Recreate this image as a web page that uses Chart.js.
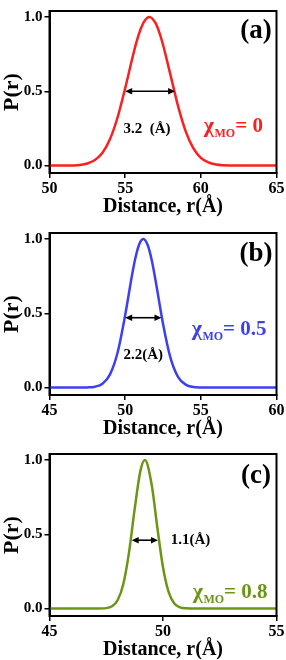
<!DOCTYPE html>
<html><head><meta charset="utf-8">
<script src="https://cdn.jsdelivr.net/npm/chart.js@4/dist/chart.umd.min.js"></script>
<style>
html,body{margin:0;padding:0;background:#fff;width:286px;height:660px;overflow:hidden;position:relative}
canvas{position:absolute;left:0}
</style></head><body>
<canvas id="ca" width="286" height="220" style="top:0px"></canvas>
<canvas id="cb" width="286" height="220" style="top:222px"></canvas>
<canvas id="cc" width="286" height="220" style="top:443px"></canvas>
<script>
// ---------- data ----------
const distanceA = [50, 51, 52, 52.5, 53, 53.5, 54, 54.5, 55, 55.5, 55.75, 56, 56.25, 56.6, 57, 57.25, 57.5, 58, 58.5, 59, 59.5, 60, 60.5, 61, 61.5, 62, 63, 65];
const probA     = [0, 0.0003, 0.0045, 0.014, 0.037, 0.086, 0.178, 0.325, 0.520, 0.734, 0.832, 0.912, 0.969, 1.0, 0.960, 0.898, 0.813, 0.607, 0.398, 0.230, 0.117, 0.052, 0.021, 0.007, 0.002, 0.0006, 0, 0];

const distanceB = [45, 47, 47.5, 48, 48.5, 49, 49.5, 50, 50.5, 50.75, 51, 51.2, 51.5, 51.75, 52, 52.5, 53, 53.5, 54, 54.5, 55, 55.5, 60];
const probB     = [0, 0.0002, 0.001, 0.006, 0.026, 0.089, 0.236, 0.487, 0.783, 0.904, 0.980, 1.0, 0.956, 0.860, 0.726, 0.430, 0.198, 0.071, 0.020, 0.004, 0.0007, 0, 0];

const distanceC = [45, 47, 47.5, 47.75, 48, 48.25, 48.5, 48.75, 49, 49.2, 49.5, 49.75, 50, 50.25, 50.5, 50.75, 51, 51.5, 55];
const probC     = [0, 0, 0.003, 0.015, 0.056, 0.164, 0.375, 0.667, 0.923, 1.0, 0.835, 0.546, 0.278, 0.110, 0.034, 0.008, 0.0015, 0, 0];

const xTicksA = [50, 55, 60, 65];
const xTicksB = [45, 50, 55, 60];
const xTicksC = [45, 50, 55];
const yTicks  = [0, 0.5, 1.0];

const fwhmA = [55.0, 58.3];   // arrow ends (Å) at half max
const fwhmB = [50.0, 52.4];
const fwhmC = [48.62, 49.78];

const panelLabels = ['(a)', '(b)', '(c)'];
const fwhmLabels  = ['3.2  (Å)', '2.2(Å)', '1.1(Å)'];
const chiValues   = ['0', '0.5', '0.8'];

const colors = ['#fa2020', '#3c40f0', '#6b9614'];
const SERIF = "'Liberation Serif','Times New Roman',serif";

// ---------- annotation plugin ----------
const annot = {
  id: 'annot',
  afterDatasetsDraw(chart, args, o) {
    const {ctx, chartArea: a, scales: {x, y}} = chart;
    ctx.save();
    ctx.strokeStyle = '#000'; ctx.lineWidth = 2;
    ctx.strokeRect(a.left, a.top, a.right - a.left, a.bottom - a.top);
    const ay = y.getPixelForValue(o.arrowY);
    const x1 = x.getPixelForValue(o.arrow[0]), x2 = x.getPixelForValue(o.arrow[1]);
    ctx.lineWidth = 1.6;
    ctx.beginPath(); ctx.moveTo(x1 + 3, ay); ctx.lineTo(x2 - 3, ay); ctx.stroke();
    ctx.fillStyle = '#000';
    ctx.beginPath(); ctx.moveTo(x1, ay); ctx.lineTo(x1 + 7, ay - 3.3); ctx.lineTo(x1 + 7, ay + 3.3); ctx.closePath(); ctx.fill();
    ctx.beginPath(); ctx.moveTo(x2, ay); ctx.lineTo(x2 - 7, ay - 3.3); ctx.lineTo(x2 - 7, ay + 3.3); ctx.closePath(); ctx.fill();
    ctx.textBaseline = 'middle';
    ctx.textAlign = 'center';
    ctx.font = 'bold 27px ' + SERIF;
    ctx.fillText(o.letter, x.getPixelForValue(o.letterPos[0]), y.getPixelForValue(o.letterPos[1]));
    ctx.font = 'bold 15px ' + SERIF;
    ctx.textAlign = o.fwhmAlign;
    ctx.fillText(o.fwhmText, x.getPixelForValue(o.fwhmPos[0]), y.getPixelForValue(o.fwhmPos[1]));
    ctx.fillStyle = o.color;
    ctx.textAlign = 'left';
    let cx = x.getPixelForValue(o.chiPos[0]);
    const cy = y.getPixelForValue(o.chiPos[1]);
    ctx.textBaseline = 'alphabetic';
    const base = cy + 7;
    ctx.font = 'bold 22px ' + SERIF;
    ctx.fillText('χ', cx, base);
    cx += ctx.measureText('χ').width + 0.5;
    ctx.font = 'bold 12px ' + SERIF;
    ctx.fillText('MO', cx, base + 5);
    cx += ctx.measureText('MO').width;
    ctx.font = 'bold 21px ' + SERIF;
    ctx.fillText('= ' + o.chi, cx, base);
    ctx.restore();
  }
};

function makeChart(id, xs, ys, color, xmin, xmax, xticks, extra) {
  const pts = xs.map((v, i) => ({x: v, y: ys[i]}));
  return new Chart(document.getElementById(id), {
    type: 'line',
    data: {datasets: [{data: pts, borderColor: color, borderWidth: 2.5, pointRadius: 0,
      cubicInterpolationMode: 'monotone', fill: false}]},
    options: {
      responsive: false, animation: false, devicePixelRatio: 1,
      layout: {padding: {top: 4, right: 9.5, left: 0, bottom: 0}},
      plugins: {legend: {display: false}, tooltip: {enabled: false}, annot: extra},
      scales: {
        x: {
          type: 'linear', min: xmin, max: xmax,
          afterBuildTicks: s => { s.ticks = xticks.map(v => ({value: v})); },
          afterFit: s => { s.height = 47; },
          grid: {drawOnChartArea: false, drawTicks: true, tickLength: 5, color: '#000', lineWidth: 1.5},
          border: {display: true, color: '#000', width: 2},
          ticks: {color: '#000', padding: 1, maxRotation: 0, font: {family: SERIF, size: 16, weight: 'bold'}},
          title: {display: true, text: 'Distance, r(Å)', color: '#000', padding: {top: 0, bottom: 1},
            font: {family: SERIF, size: 20, weight: 'bold', lineHeight: 1.2}}
        },
        y: {
          type: 'linear', min: -0.05, max: 1.04,
          afterBuildTicks: s => { s.ticks = yTicks.map(v => ({value: v})); },
          afterFit: s => { s.width = 49.5; },
          grid: {drawOnChartArea: false, drawTicks: true, tickLength: 5, color: '#000', lineWidth: 1.5},
          border: {display: true, color: '#000', width: 2},
          ticks: {color: '#000', padding: 2, callback: v => v.toFixed(1),
            font: {family: SERIF, size: 15, weight: 'bold'}},
          title: {display: true, text: 'P(r)', color: '#000', padding: {top: 1, bottom: 0},
            font: {family: SERIF, size: 22, weight: 'bold', lineHeight: 1}}
        }
      }
    },
    plugins: [annot]
  });
}

makeChart('ca', distanceA, probA, colors[0], 50, 65, xTicksA, {
  arrow: fwhmA, arrowY: 0.5, letter: panelLabels[0], letterPos: [63.65, 0.905],
  fwhmText: fwhmLabels[0], fwhmPos: [56.44, 0.245], fwhmAlign: 'center',
  chi: chiValues[0], chiPos: [60.2, 0.27], color: colors[0]});
makeChart('cb', distanceB, probB, colors[1], 45, 60, xTicksB, {
  arrow: fwhmB, arrowY: 0.47, letter: panelLabels[1], letterPos: [58.65, 0.9],
  fwhmText: fwhmLabels[1], fwhmPos: [51.2, 0.22], fwhmAlign: 'center',
  chi: chiValues[1], chiPos: [54.4, 0.40], color: colors[1]});
makeChart('cc', distanceC, probC, colors[2], 45, 55, xTicksC, {
  arrow: fwhmC, arrowY: 0.46, letter: panelLabels[2], letterPos: [54.1, 0.89],
  fwhmText: fwhmLabels[2], fwhmPos: [50.34, 0.46], fwhmAlign: 'left',
  chi: chiValues[2], chiPos: [51.31, 0.12], color: colors[2]});
</script>
</body></html>
